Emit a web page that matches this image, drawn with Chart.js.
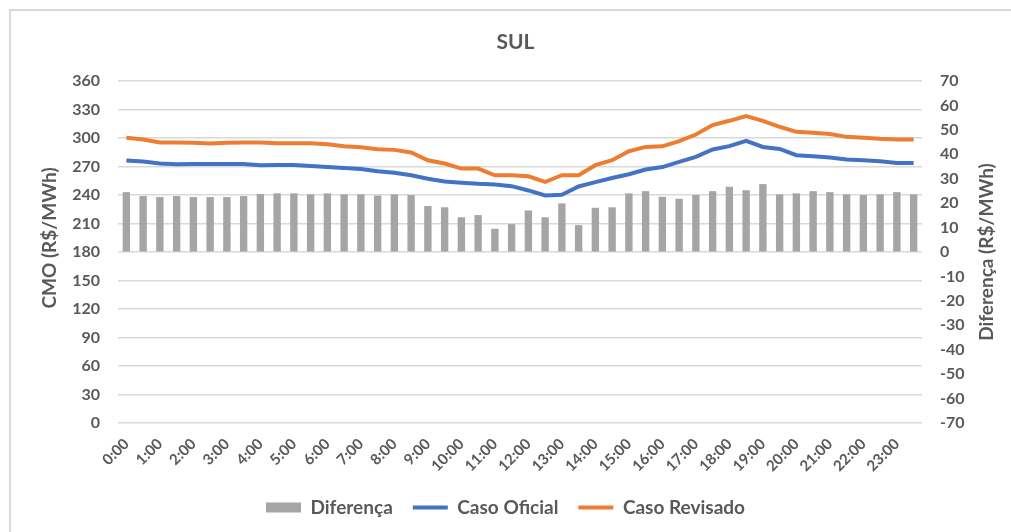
<!DOCTYPE html>
<html>
<head>
<meta charset="utf-8">
<script src="https://cdn.jsdelivr.net/npm/chart.js@4"></script>
<style>
  html, body { margin: 0; padding: 0; background: #ffffff; overflow: hidden; }
  #wrap { position: relative; width: 1011px; height: 532px; }
  #frame { position: absolute; left: 9px; top: 9px; width: 1100px; height: 600px;
           border-left: 2px solid #d9d9d9; border-top: 2px solid #d9d9d9; box-sizing: border-box; }
  canvas { position: absolute; left: 0; top: 0; }
</style>
</head>
<body>
<div id="wrap">
  <div id="frame"></div>
  <canvas id="c" width="1011" height="532"></canvas>
</div>
<script>
const categories = [];
for (let h = 0; h < 24; h++) { categories.push(h + ':00'); categories.push(h + ':30'); }

const diferenca = [24.5, 22.9, 22.5, 22.9, 22.5, 22.5, 22.5, 22.9, 23.7, 24.0, 24.0, 23.6,
  24.0, 23.6, 23.6, 23.1, 23.6, 23.3, 18.8, 18.3, 14.2, 15.1, 9.5, 11.4,
  17.0, 14.2, 19.9, 11.0, 18.1, 18.3, 24.0, 24.9, 22.6, 21.8, 23.3, 24.9,
  26.7, 25.3, 27.8, 23.6, 24.0, 24.9, 24.5, 23.6, 23.3, 23.6, 24.5, 23.6];

const casoOficial = [276.3, 275.2, 273.1, 272.4, 272.7, 272.7, 272.7, 272.7, 271.3, 271.7, 271.7, 270.6,
  269.5, 268.5, 267.4, 265.0, 263.5, 260.8, 257.2, 254.3, 252.9, 251.8, 251.1, 249.3,
  244.8, 239.5, 240.2, 249.0, 253.6, 257.9, 261.8, 266.8, 269.4, 274.8, 280.1, 287.9,
  291.4, 297.0, 290.6, 288.5, 281.9, 280.8, 279.4, 277.3, 276.6, 275.6, 273.8, 273.8];

const casoRevisado = [300.2, 298.4, 295.3, 295.3, 294.9, 294.2, 294.9, 295.3, 295.3, 294.5, 294.5, 294.5,
  293.5, 291.4, 290.3, 288.2, 287.5, 284.7, 276.6, 273.1, 267.8, 267.8, 260.8, 260.8,
  259.7, 253.7, 260.8, 260.8, 271.4, 276.6, 286.1, 290.6, 291.2, 296.7, 303.7, 313.6,
  318.1, 323.1, 318.1, 311.8, 306.5, 305.5, 304.1, 301.2, 300.2, 299.1, 298.4, 298.4];

const leftTitle = 'CMO (R$/MWh)';
const rightTitle = 'Diferença (R$/MWh)';
const chartTitle = 'SUL';

const FONT = 'Lato, "Liberation Sans", sans-serif';
const TXT = '#595959';

const textPlugin = {
  id: 'textPlugin',
  afterDraw(chart) {
    const ctx = chart.ctx;
    ctx.save();
    ctx.fillStyle = TXT;
    ctx.textAlign = 'center';
    ctx.textBaseline = 'middle';
    ctx.font = 'bold 21px ' + FONT;
    ctx.fillText(chartTitle, 515.5, 42);
    ctx.restore();

    ctx.save();
    ctx.fillStyle = TXT;
    ctx.font = 'bold 19px ' + FONT;
    ctx.textAlign = 'center';
    ctx.textBaseline = 'middle';
    ctx.translate(50, 238);
    ctx.rotate(-Math.PI / 2);
    ctx.fillText(leftTitle, 0, 0);
    ctx.restore();

    ctx.save();
    ctx.fillStyle = TXT;
    ctx.font = 'bold 19px ' + FONT;
    ctx.textAlign = 'center';
    ctx.textBaseline = 'middle';
    ctx.translate(987, 252);
    ctx.rotate(-Math.PI / 2);
    ctx.fillText(rightTitle, 0, 0);
    ctx.restore();
  }
};

new Chart(document.getElementById('c'), {
  data: {
    labels: categories,
    datasets: [
      { type: 'bar', label: 'Diferença', data: diferenca, yAxisID: 'y1',
        backgroundColor: '#a5a5a5', borderWidth: 0, pointStyle: 'rect',
        categoryPercentage: 1.0, barPercentage: 0.44 },
      { type: 'line', label: 'Caso Oficial', data: casoOficial, yAxisID: 'y',
        borderColor: '#4472c4', backgroundColor: '#4472c4', borderWidth: 4,
        pointRadius: 0, pointStyle: 'line', tension: 0 },
      { type: 'line', label: 'Caso Revisado', data: casoRevisado, yAxisID: 'y',
        borderColor: '#ed7d31', backgroundColor: '#ed7d31', borderWidth: 4,
        pointRadius: 0, pointStyle: 'line', tension: 0 }
    ]
  },
  options: {
    responsive: false,
    animation: false,
    layout: { padding: { left: 0, right: 0, top: 81, bottom: 5 } },
    plugins: {
      title: { display: false },
      legend: { position: 'bottom',
        labels: { usePointStyle: true, pointStyleWidth: 35, boxHeight: 10, padding: 20,
          color: TXT, font: { family: FONT, size: 19, weight: 'bold' } } },
      tooltip: { enabled: false }
    },
    scales: {
      x: {
        grid: { display: false },
        border: { display: false },
        ticks: { color: TXT, font: { family: FONT, size: 15, weight: 'bold' },
          autoSkip: false, minRotation: 45, maxRotation: 45, padding: 4,
          callback: function (v, i) { return i % 2 === 0 ? categories[i] : ''; } },
        afterFit(s) { s.height = 55; }
      },
      y: {
        position: 'left', min: 0, max: 360,
        grid: { color: '#d9d9d9', lineWidth: 1.5, drawTicks: false },
        border: { display: false },
        ticks: { stepSize: 30, padding: 18, color: TXT, font: { family: FONT, size: 16, weight: 'bold' } },
        afterFit(s) { s.width = 118; }
      },
      y1: {
        position: 'right', min: -70, max: 70,
        grid: { drawOnChartArea: false, drawTicks: false },
        border: { display: false },
        ticks: { stepSize: 10, padding: 18, color: TXT, font: { family: FONT, size: 16, weight: 'bold' } },
        afterFit(s) { s.width = 89; }
      }
    }
  },
  plugins: [textPlugin]
});
</script>
</body>
</html>
